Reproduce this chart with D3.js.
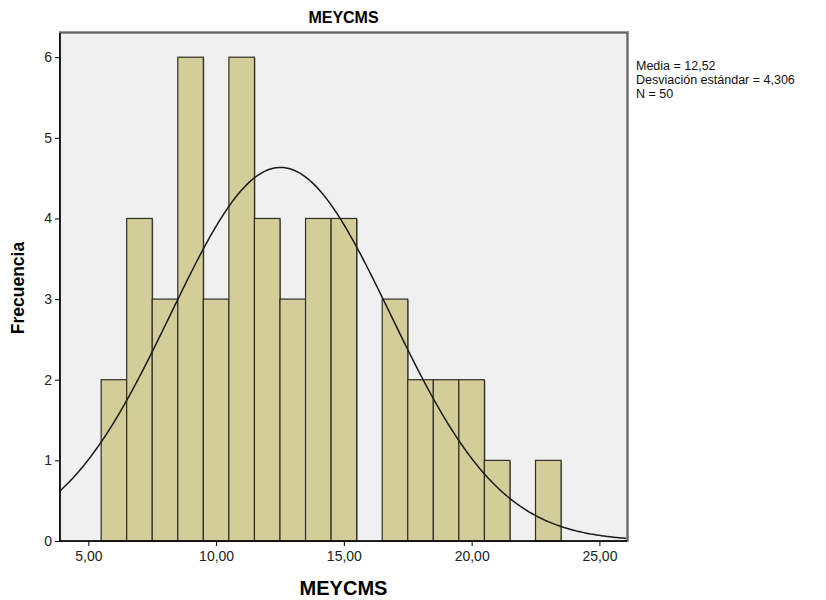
<!DOCTYPE html>
<html>
<head>
<meta charset="utf-8">
<script src="https://cdn.jsdelivr.net/npm/d3@7"></script>
<style>
  body { margin: 0; background: #fff; font-family: "Liberation Sans", Arial, sans-serif; }
  .tick text { font-size: 14px; fill: #222; font-family: "Liberation Sans", Arial, sans-serif; }
  .tick line, .domain { stroke: #000; }
</style>
</head>
<body>
<div id="chart"></div>
<script>
// bin centres (bin width 1) and counts
var binCenters = [6, 7, 8, 9, 10, 11, 12, 13, 14, 15, 16, 17, 18, 19, 20, 21, 22, 23];
var counts     = [2, 4, 3, 6, 3, 6, 4, 3, 4, 4, 0, 3, 2, 2, 2, 1, 0, 1];
var xTicks = [5, 10, 15, 20, 25];
var yTicks = [0, 1, 2, 3, 4, 5, 6];
var stats = ["Media = 12,52", "Desviación estándar = 4,306", "N = 50"];
var media = 12.52, desv = 4.306, n = 50;

var width = 826, height = 600;
var pL = 60, pR = 627, pT = 33, pB = 541;

var svg = d3.select("#chart").append("svg")
  .attr("width", width)
  .attr("height", height);

var x = d3.scaleLinear().domain([3.89, 26.08]).range([pL, pR]);
var y = d3.scaleLinear().domain([0, 6.3]).range([pB, pT]);

// plot background + shadow
svg.append("rect")
  .attr("x", pL).attr("y", pT - 1)
  .attr("width", pR - pL + 1).attr("height", pB - pT + 1)
  .attr("fill", "none").attr("stroke", "#999").attr("stroke-width", 2);
svg.append("rect")
  .attr("x", pL).attr("y", pT)
  .attr("width", pR - pL).attr("height", pB - pT)
  .attr("fill", "#f0f0f0").attr("stroke", "#333");

// bars
var bars = binCenters.map(function(c, i) { return {c: c, n: counts[i]}; })
  .filter(function(d) { return d.n > 0; });

svg.selectAll("rect.shadow").data(bars).enter().append("rect")
  .attr("class", "shadow")
  .attr("x", function(d) { return x(d.c - 0.5) + 1; })
  .attr("y", function(d) { return y(d.n) + 1; })
  .attr("width", function(d) { return x(d.c + 0.5) - x(d.c - 0.5); })
  .attr("height", function(d) { return y(0) - y(d.n) - 1; })
  .attr("fill", "#8a8670");

svg.selectAll("rect.bar").data(bars).enter().append("rect")
  .attr("class", "bar")
  .attr("x", function(d) { return x(d.c - 0.5); })
  .attr("y", function(d) { return y(d.n); })
  .attr("width", function(d) { return x(d.c + 0.5) - x(d.c - 0.5); })
  .attr("height", function(d) { return y(0) - y(d.n); })
  .attr("fill", "#d3ce99")
  .attr("stroke", "#2f2f28")
  .attr("stroke-width", 1.2);

// normal curve from the shown mean / sd
var xs = d3.range(3.89, 26.081, 0.05);
var line = d3.line()
  .x(function(v) { return x(v); })
  .y(function(v) {
    var z = (v - media) / desv;
    return y(n / (desv * Math.sqrt(2 * Math.PI)) * Math.exp(-0.5 * z * z));
  });
svg.append("path")
  .datum(xs)
  .attr("d", line)
  .attr("fill", "none")
  .attr("stroke", "#1a1a1a")
  .attr("stroke-width", 1.5);

// axes
var xAxis = d3.axisBottom(x).tickValues(xTicks).tickSize(5).tickPadding(5)
  .tickFormat(function(d) { return d.toFixed(2).replace(".", ","); });
svg.append("g").attr("transform", "translate(0," + pB + ")").call(xAxis)
  .call(function(g) { g.select(".domain").remove(); });

var yAxis = d3.axisLeft(y).tickValues(yTicks).tickSize(5).tickPadding(3)
  .tickFormat(d3.format("d"));
svg.append("g").attr("transform", "translate(" + pL + ",0)").call(yAxis)
  .call(function(g) { g.select(".domain").remove(); });

svg.append("line")
  .attr("x1", pL).attr("x2", pL).attr("y1", pT).attr("y2", pB)
  .attr("stroke", "#000").attr("stroke-width", 1.5);
svg.append("line")
  .attr("x1", pL).attr("x2", pR).attr("y1", pB).attr("y2", pB)
  .attr("stroke", "#000").attr("stroke-width", 1.5);

// titles
svg.append("text")
  .attr("x", (pL + pR) / 2).attr("y", 23)
  .attr("text-anchor", "middle")
  .style("font-size", "16px").style("font-weight", "bold")
  .text("MEYCMS");

svg.append("text")
  .attr("x", (pL + pR) / 2).attr("y", 595)
  .attr("text-anchor", "middle")
  .style("font-size", "20px").style("font-weight", "bold")
  .text("MEYCMS");

svg.append("text")
  .attr("transform", "translate(24," + ((pT + pB) / 2 + 1) + ") rotate(-90)")
  .attr("text-anchor", "middle")
  .style("font-size", "17.5px").style("font-weight", "bold")
  .text("Frecuencia");

// stats block
svg.append("g").selectAll("text").data(stats).enter().append("text")
  .attr("x", 636)
  .attr("y", function(d, i) { return 70 + i * 14; })
  .style("font-size", "12.5px")
  .style("fill", "#111")
  .text(function(d) { return d; });
</script>
</body>
</html>
